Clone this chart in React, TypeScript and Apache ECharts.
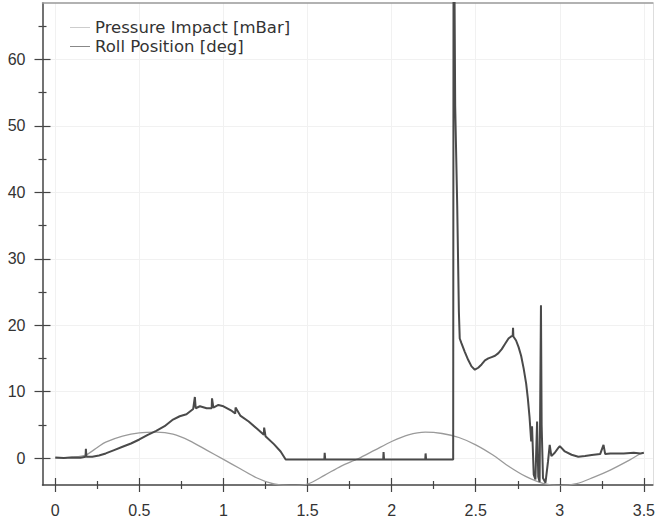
import React, { useEffect, useRef } from "react";
import * as echarts from "echarts";

const xMajorTicks = [0, 0.5, 1, 1.5, 2, 2.5, 3, 3.5];
const yMajorTicks = [0, 10, 20, 30, 40, 50, 60];

const pressureName = "Pressure Impact [mBar]";
const rollName = "Roll Position [deg]";

const pressureTime = [
  0, 0.05, 0.1, 0.15, 0.18, 0.182, 0.185, 0.22, 0.26, 0.3, 0.35, 0.4, 0.45, 0.5, 0.55, 0.6, 0.65, 0.7,
  0.74, 0.78, 0.82, 0.83, 0.835, 0.86, 0.9, 0.93, 0.932, 0.94, 0.97, 1.0, 1.05, 1.07, 1.072, 1.1, 1.15,
  1.2, 1.24, 1.242, 1.25, 1.3, 1.34, 1.37, 1.6, 1.602, 1.605, 1.95, 1.952, 1.955, 2.2, 2.202, 2.205,
  2.366, 2.368, 2.374, 2.378, 2.39, 2.4, 2.405, 2.415, 2.435, 2.455, 2.475, 2.495, 2.515, 2.535, 2.555,
  2.575, 2.595, 2.615, 2.635, 2.655, 2.675, 2.695, 2.71, 2.72, 2.722, 2.724, 2.74, 2.755, 2.77, 2.785,
  2.8, 2.81, 2.82, 2.83, 2.835, 2.845, 2.855, 2.865, 2.872, 2.88, 2.888, 2.892, 2.9, 2.915, 2.93, 2.94,
  2.95, 2.97, 2.99, 3.0, 3.03, 3.07, 3.11, 3.15, 3.19, 3.24, 3.26, 3.27, 3.3, 3.38, 3.44, 3.48, 3.5,
];
const pressureValue = [
  0.1, 0.0, 0.1, 0.05, 0.2, 1.4, 0.2, 0.2, 0.4, 0.7, 1.2, 1.7, 2.2, 2.8, 3.5, 4.1, 4.8, 5.8,
  6.3, 6.6, 7.4, 9.2, 7.5, 7.8, 7.5, 7.5, 9.0, 7.6, 8.0, 7.8, 7.1, 6.7, 7.6, 6.4, 5.5,
  4.4, 3.5, 4.6, 3.3, 2.1, 1.0, -0.2, -0.2, 0.8, -0.2, -0.2, 0.9, -0.2, -0.2, 0.7, -0.2,
  -0.2, 70, 70, 53, 38, 22, 18, 17.3, 16.0, 14.8, 13.8, 13.3, 13.6, 14.1, 14.7,
  15.0, 15.2, 15.4, 15.8, 16.4, 17.2, 18.0, 18.3, 18.4, 19.6, 18.3, 17.7, 16.7, 15.4, 13.5,
  11.2, 9.0, 6.2, 2.5, 4.8, -2.5, -3.2, 5.5, -2.8, -3.6, 23, 5, -3.0, -3.7, -0.5, 2.0,
  0.3, 0.8, 1.5, 1.8, 1.0, 0.5, 0.2, 0.3, 0.45, 0.6, 2.0, 0.6, 0.7, 0.7, 0.8, 0.7, 0.8,
];

const rollTime = [
  0, 0.1, 0.18, 0.25, 0.3, 0.4, 0.5, 0.6, 0.7, 0.8, 0.9, 1.0, 1.1, 1.2, 1.3, 1.4, 1.5, 1.6, 1.7,
  1.8, 1.9, 2.0, 2.1, 2.2, 2.3, 2.4, 2.5, 2.6, 2.7, 2.8, 2.9, 3.0, 3.1, 3.2, 3.3, 3.4, 3.48,
];
const rollValue = [
  0, 0.15, 0.45, 1.6, 2.4, 3.3, 3.8, 3.9, 3.6, 2.6, 1.2, -0.2, -1.6, -3.0, -3.9, -4.15, -3.9, -2.6, -1.2,
  -0.1, 1.2, 2.5, 3.5, 3.9, 3.7, 3.1, 2.0, 0.5, -1.3, -2.8, -3.8, -4.15, -3.85, -2.9, -1.8, -0.5, 0.7,
];

const FONT = "'Liberation Sans', Arial, Helvetica, sans-serif";
const LEGEND_FONT = "'DejaVu Sans', Verdana, sans-serif";
const AXIS_COLOR = "#444";
const X_MIN = -0.076;
const X_MAX = 3.553;
const Y_MIN = -4.05;
const Y_MAX = 68.5;

export default function App() {
  const ref = useRef<HTMLDivElement>(null);

  useEffect(() => {
    document.body.style.margin = "0";
    if (!ref.current) return;
    const chart = echarts.init(ref.current, undefined, { renderer: "svg" });

    const pressureData = pressureTime.map((t, i) => [t, pressureValue[i]]);
    const rollData = rollTime.map((t, i) => [t, rollValue[i]]);

    const xBase = {
      type: "value",
      min: X_MIN,
      max: X_MAX,
      minInterval: 0.5,
      maxInterval: 0.5,
      splitNumber: 7,
      gridIndex: 0,
    };
    const yBase = {
      type: "value",
      min: Y_MIN,
      max: Y_MAX,
      minInterval: 10,
      maxInterval: 10,
      splitNumber: 7,
      gridIndex: 0,
    };

    chart.setOption({
      animation: false,
      backgroundColor: "#ffffff",
      grid: { left: 42.5, right: 3, top: 3, bottom: 39, containLabel: false },
      legend: {
        orient: "vertical",
        left: 70,
        top: 19,
        padding: 0,
        icon: "rect",
        itemWidth: 20,
        itemHeight: 1,
        itemGap: 2,
        textStyle: { fontFamily: LEGEND_FONT, fontSize: 16.5, color: "#333", lineHeight: 16 },
        data: [
          { name: pressureName, itemStyle: { color: "#cdcdcd" } },
          { name: rollName, itemStyle: { color: "#888888" } },
        ],
      },
      xAxis: [
        {
          ...xBase,
          position: "bottom",
          axisLine: { show: true, onZero: false, lineStyle: { color: AXIS_COLOR, width: 1.5 } },
          axisTick: { show: true, customValues: xMajorTicks, length: 7, lineStyle: { color: AXIS_COLOR, width: 1.2 } },
          minorTick: { show: true, splitNumber: 2, length: 4, lineStyle: { color: AXIS_COLOR, width: 1.2 } },
          axisLabel: {
            customValues: xMajorTicks,
            margin: 17,
            fontFamily: FONT,
            fontSize: 16,
            color: "#333",
            formatter: (v: number) => String(v),
          },
          splitLine: { show: true, lineStyle: { color: "#f1f1f1", width: 1 } },
        },
        {
          ...xBase,
          position: "bottom",
          axisLine: { show: false, onZero: false },
          axisTick: { show: true, inside: true, customValues: xMajorTicks, length: 7, lineStyle: { color: AXIS_COLOR, width: 1.2 } },
          minorTick: { show: true, splitNumber: 2, length: 4, lineStyle: { color: AXIS_COLOR, width: 1.2 } },
          axisLabel: { show: false },
          splitLine: { show: false },
        },
        {
          ...xBase,
          position: "top",
          axisLine: { show: true, onZero: false, lineStyle: { color: "#999", width: 1.5 } },
          axisTick: { show: false },
          axisLabel: { show: false },
          splitLine: { show: false },
        },
      ],
      yAxis: [
        {
          ...yBase,
          position: "left",
          axisLine: { show: true, onZero: false, lineStyle: { color: AXIS_COLOR, width: 1.5 } },
          axisTick: { show: true, customValues: yMajorTicks, length: 8, lineStyle: { color: AXIS_COLOR, width: 1.2 } },
          minorTick: { show: true, splitNumber: 2, length: 4, lineStyle: { color: AXIS_COLOR, width: 1.2 } },
          axisLabel: {
            customValues: yMajorTicks,
            margin: 17,
            fontFamily: FONT,
            fontSize: 16,
            color: "#333",
          },
          splitLine: { show: true, lineStyle: { color: "#f1f1f1", width: 1 } },
        },
        {
          ...yBase,
          position: "left",
          axisLine: { show: false, onZero: false },
          axisTick: { show: true, inside: true, customValues: yMajorTicks, length: 8, lineStyle: { color: AXIS_COLOR, width: 1.2 } },
          minorTick: { show: true, splitNumber: 2, length: 4, lineStyle: { color: AXIS_COLOR, width: 1.2 } },
          axisLabel: { show: false },
          splitLine: { show: false },
        },
        {
          ...yBase,
          position: "right",
          axisLine: { show: true, onZero: false, lineStyle: { color: "#dddddd", width: 1 } },
          axisTick: { show: false },
          axisLabel: { show: false },
          splitLine: { show: false },
        },
      ],
      series: [
        {
          name: rollName,
          type: "line",
          xAxisIndex: 0,
          yAxisIndex: 0,
          data: rollData,
          symbol: "none",
          smooth: 0.3,
          clip: true,
          z: 2,
          lineStyle: { color: "#9a9a9a", width: 1.3 },
          itemStyle: { color: "#9a9a9a" },
        },
        {
          name: pressureName,
          type: "line",
          xAxisIndex: 0,
          yAxisIndex: 0,
          data: pressureData,
          symbol: "none",
          clip: true,
          z: 3,
          lineStyle: { color: "#4a4a4a", width: 2 },
          itemStyle: { color: "#4a4a4a" },
        },
      ],
    });

    return () => chart.dispose();
  }, []);

  return <div ref={ref} style={{ width: 658, height: 524 }} />;
}
